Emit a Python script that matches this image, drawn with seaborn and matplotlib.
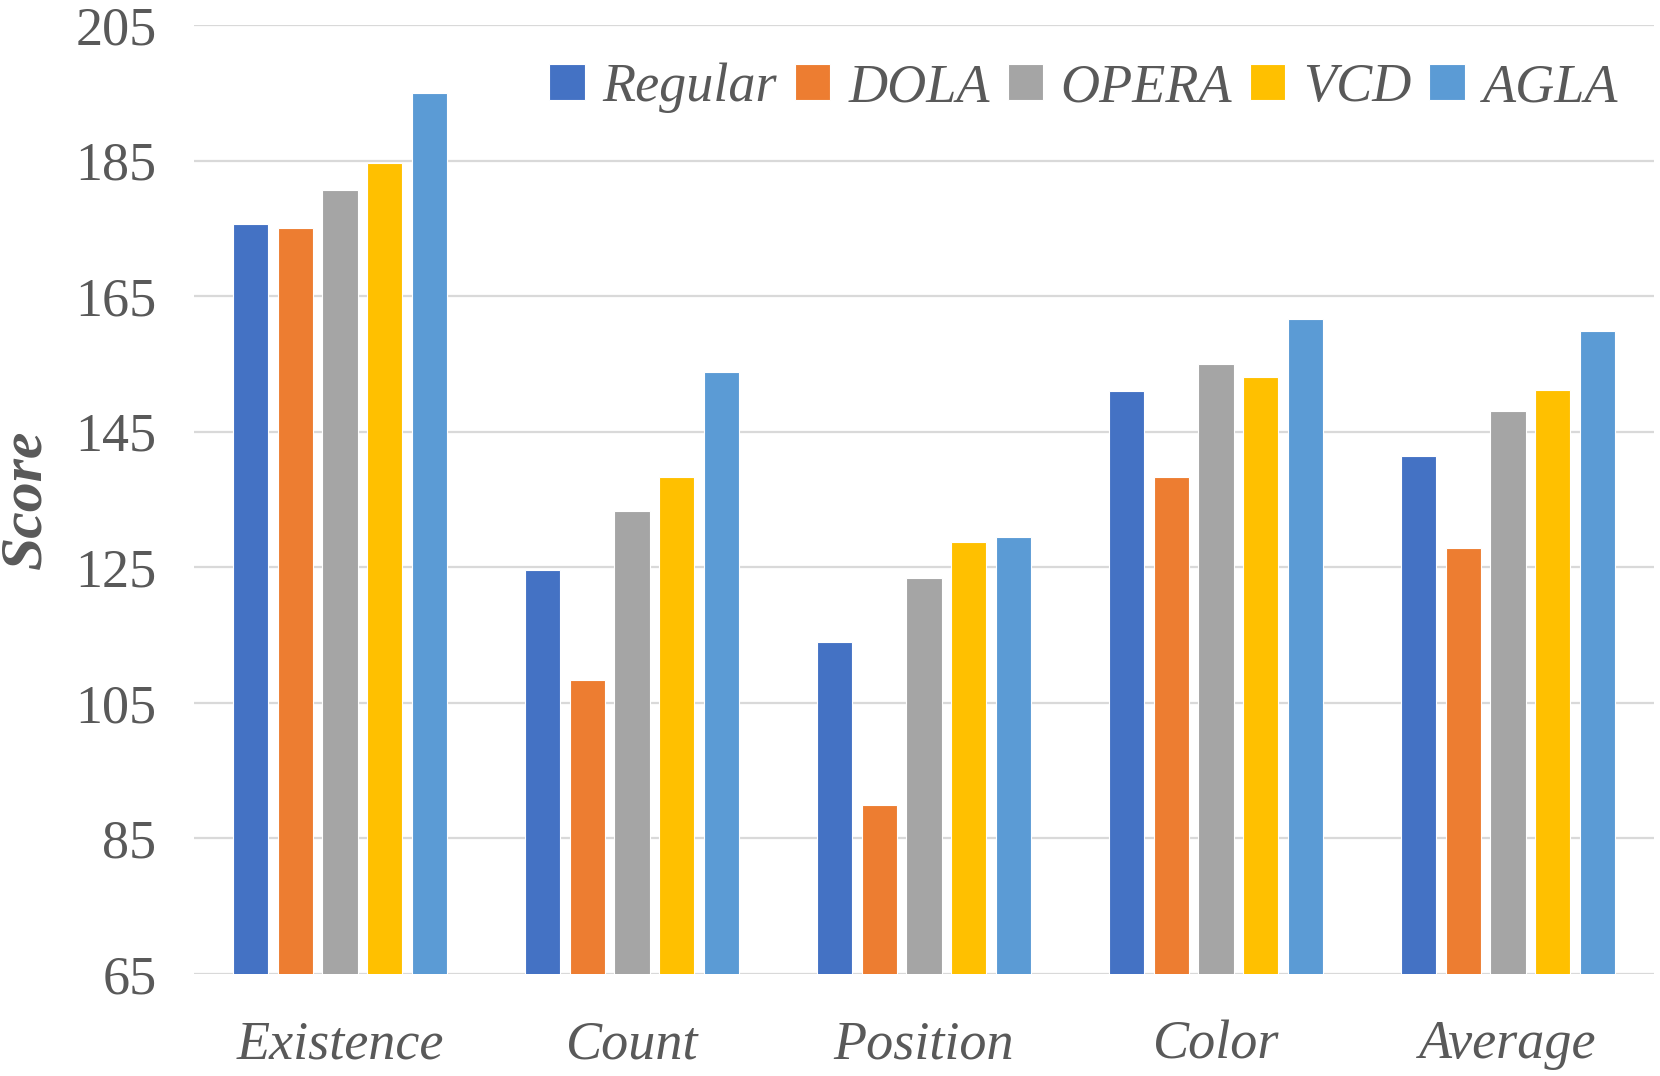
import matplotlib
matplotlib.use("Agg")
import matplotlib.pyplot as plt
import matplotlib.font_manager as fm
import seaborn as sns
import pandas as pd

categories = ["Existence", "Count", "Position", "Color", "Average"]
methods = ["Regular", "DOLA", "OPERA", "VCD", "AGLA"]
regular = [175.7, 124.6, 114.0, 151.0, 141.4]
dola = [175.0, 108.3, 90.0, 138.3, 127.9]
opera = [180.7, 133.3, 123.4, 155.0, 148.1]
vcd = [184.7, 138.3, 128.7, 153.0, 151.1]
agla = [195.0, 153.8, 129.4, 161.6, 159.9]
y_ticks = [65, 85, 105, 125, 145, 165, 185, 205]
colors = ["#4472C4", "#ED7D31", "#A5A5A5", "#FFC000", "#5B9BD5"]

series = [regular, dola, opera, vcd, agla]
rows = []
for m, vals in zip(methods, series):
    for c, v in zip(categories, vals):
        rows.append({"Category": c, "Method": m, "Score": v})
df = pd.DataFrame(rows)

sns.set_theme(style="white")

# resolve the Liberation Serif files explicitly
files = {}
for f in fm.fontManager.ttflist:
    if f.name == "Liberation Serif":
        files[(f.style, int(f.weight) >= 600)] = f.fname


def fp(size, style="normal", bold=False):
    fname = files.get((style, bold))
    if fname:
        return fm.FontProperties(fname=fname, size=size)
    return fm.FontProperties(family="DejaVu Serif", style=style,
                             weight="bold" if bold else "normal", size=size)


fig = plt.figure(figsize=(16.6, 10.76), dpi=100)
ax = fig.add_axes([194 / 1660, 1 - 974 / 1076, 1460 / 1660, 949 / 1076])

sns.barplot(data=df, x="Category", y="Score", hue="Method", order=categories,
            hue_order=methods, palette=colors, width=0.765, gap=0.21,
            saturation=1, edgecolor="white", linewidth=0.8, ax=ax,
            errorbar=None)

tick_color = "#595959"
ax.set_ylim(65, 205)
ax.set_xlim(-0.5, 4.5)
ax.set_yticks(y_ticks)
ax.set_yticklabels([str(t) for t in y_ticks], fontproperties=fp(39),
                   color=tick_color)
ax.set_xticks(range(len(categories)))
ax.set_xticklabels(categories, fontproperties=fp(39, "italic"),
                   color=tick_color)
ax.set_axisbelow(True)
ax.yaxis.grid(True, color="#D9D9D9", linewidth=1.6)
ax.xaxis.grid(False)
for s in ax.spines.values():
    s.set_visible(False)

ax.tick_params(axis="y", length=0, pad=27)
ax.tick_params(axis="x", length=0, pad=33)

ax.set_xlabel("")
ax.set_ylabel("Score", fontproperties=fp(43, "italic", True), color=tick_color)
ax.yaxis.set_label_coords((26 - 194) / 1460, 0.5)
ax.yaxis.label.set_va("center")

handles, labels = ax.get_legend_handles_labels()
ax.legend(handles, labels, loc="center right",
          bbox_to_anchor=(1618 / 1660, 1 - 88 / 1076),
          bbox_transform=fig.transFigure, ncol=5, frameon=False,
          prop=fp(39, "italic"),
          labelcolor=tick_color, handlelength=0.65, handleheight=0.65,
          handletextpad=0.33, columnspacing=0.33, borderpad=0, borderaxespad=0)

fig.savefig("out.png", dpi=100)
